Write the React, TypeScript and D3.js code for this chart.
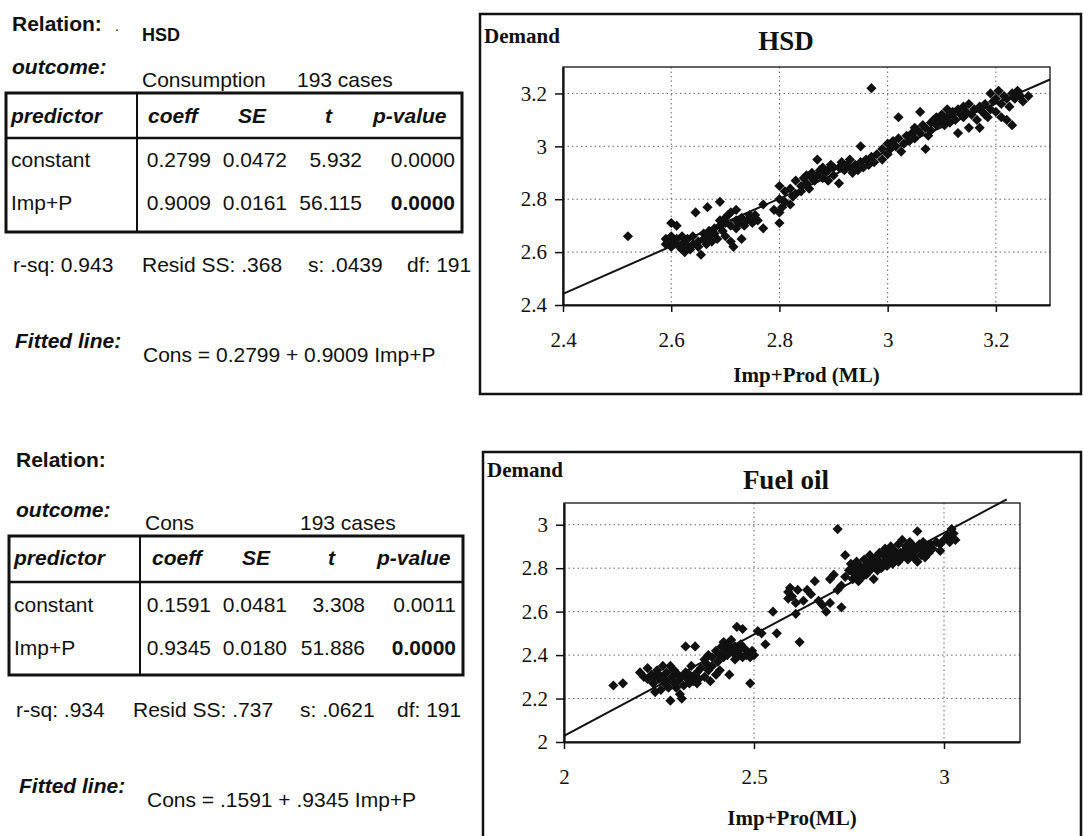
import React, { useEffect, useRef } from 'react';
import * as d3 from 'd3';

// ---- regression output (left side) ----
const TABLE_HEADERS = ['coeff', 'SE', 't', 'p-value'];
const PREDICTORS = ['constant', 'Imp+P'];

const HSD_ROWS = [
  ['0.2799', '0.0472', '5.932', '0.0000'],
  ['0.9009', '0.0161', '56.115', '0.0000'],
];
const FUEL_ROWS = [
  ['0.1591', '0.0481', '3.308', '0.0011'],
  ['0.9345', '0.0180', '51.886', '0.0000'],
];
const HSD_STATS = ['r-sq: 0.943', 'Resid SS: .368', 's: .0439', 'df: 191'];
const FUEL_STATS = ['r-sq: .934', 'Resid SS: .737', 's: .0621', 'df: 191'];

// ---- scatter data ----
const HSD_FIT = [0.2799, 0.9009];
const FUEL_FIT = [0.1591, 0.9345];
const HSD_TICKS = [2.4, 2.6, 2.8, 3, 3.2];
const FUEL_X_TICKS = [2, 2.5, 3];
const FUEL_Y_TICKS = [2, 2.2, 2.4, 2.6, 2.8, 3];

const HSD_POINTS = [
  [2.52, 2.66], [2.59, 2.63], [2.59, 2.65], [2.595, 2.64], [2.6, 2.62], [2.6, 2.64], [2.6, 2.66],
  [2.6, 2.71], [2.605, 2.63], [2.61, 2.7], [2.61, 2.65], [2.615, 2.62], [2.62, 2.63], [2.62, 2.66],
  [2.62, 2.61], [2.625, 2.6], [2.625, 2.64], [2.63, 2.62], [2.63, 2.65], [2.635, 2.61], [2.64, 2.63],
  [2.64, 2.66], [2.645, 2.75], [2.65, 2.62], [2.65, 2.64], [2.655, 2.59], [2.66, 2.65], [2.66, 2.67],
  [2.665, 2.63], [2.667, 2.77], [2.67, 2.66], [2.67, 2.68], [2.675, 2.64], [2.68, 2.69], [2.68, 2.67],
  [2.685, 2.65], [2.69, 2.79], [2.69, 2.7], [2.69, 2.72], [2.695, 2.68], [2.7, 2.71], [2.7, 2.73],
  [2.7, 2.66], [2.705, 2.74], [2.71, 2.7], [2.71, 2.75], [2.71, 2.64], [2.715, 2.62], [2.72, 2.72],
  [2.72, 2.69], [2.72, 2.76], [2.725, 2.71], [2.73, 2.65], [2.73, 2.73], [2.735, 2.7], [2.74, 2.72],
  [2.745, 2.74], [2.75, 2.73], [2.75, 2.71], [2.755, 2.74], [2.76, 2.72], [2.77, 2.69], [2.77, 2.78],
  [2.79, 2.76], [2.8, 2.71], [2.8, 2.75], [2.8, 2.8], [2.805, 2.77], [2.81, 2.79], [2.8, 2.85],
  [2.81, 2.83], [2.82, 2.84], [2.82, 2.78], [2.825, 2.81], [2.83, 2.82], [2.83, 2.87], [2.84, 2.85],
  [2.84, 2.83], [2.845, 2.88], [2.85, 2.86], [2.85, 2.89], [2.855, 2.84], [2.86, 2.88], [2.86, 2.9],
  [2.865, 2.87], [2.87, 2.95], [2.87, 2.89], [2.875, 2.91], [2.88, 2.88], [2.88, 2.92], [2.885, 2.9],
  [2.89, 2.91], [2.89, 2.87], [2.895, 2.93], [2.9, 2.92], [2.9, 2.89], [2.91, 2.86], [2.91, 2.92],
  [2.915, 2.94], [2.92, 2.91], [2.925, 2.93], [2.93, 2.92], [2.93, 2.95], [2.935, 2.9], [2.94, 2.93],
  [2.945, 2.91], [2.95, 3.0], [2.95, 2.94], [2.955, 2.92], [2.96, 2.95], [2.965, 2.93], [2.97, 3.22],
  [2.97, 2.96], [2.975, 2.94], [2.98, 2.97], [2.99, 2.99], [2.99, 2.95], [3.0, 3.01], [3.0, 2.97],
  [3.005, 2.99], [3.01, 3.02], [3.015, 3.0], [3.02, 3.11], [3.02, 3.03], [3.025, 2.98], [3.03, 3.01],
  [3.035, 3.04], [3.04, 3.02], [3.045, 3.05], [3.05, 3.07], [3.05, 3.03], [3.055, 3.06], [3.06, 3.13],
  [3.06, 3.05], [3.065, 3.08], [3.07, 2.99], [3.07, 3.07], [3.075, 3.04], [3.08, 3.09], [3.08, 3.06],
  [3.085, 3.1], [3.09, 3.08], [3.09, 3.11], [3.095, 3.09], [3.1, 3.12], [3.1, 3.1], [3.105, 3.08],
  [3.11, 3.14], [3.11, 3.11], [3.115, 3.09], [3.12, 3.12], [3.12, 3.13], [3.125, 3.1], [3.13, 3.05],
  [3.13, 3.14], [3.135, 3.12], [3.14, 3.15], [3.14, 3.11], [3.145, 3.13], [3.15, 3.07], [3.15, 3.16],
  [3.155, 3.12], [3.16, 3.14], [3.165, 3.1], [3.17, 3.07], [3.17, 3.15], [3.175, 3.13], [3.18, 3.16],
  [3.18, 3.12], [3.185, 3.11], [3.19, 3.2], [3.19, 3.14], [3.195, 3.17], [3.2, 3.18], [3.2, 3.13],
  [3.205, 3.21], [3.21, 3.11], [3.21, 3.16], [3.215, 3.19], [3.22, 3.18], [3.22, 3.1], [3.225, 3.15],
  [3.23, 3.08], [3.23, 3.2], [3.235, 3.18], [3.24, 3.21], [3.245, 3.19], [3.25, 3.17], [3.26, 3.19],
];

const FUEL_POINTS = [
  [2.13, 2.26], [2.155, 2.27], [2.2, 2.32], [2.21, 2.3], [2.22, 2.34], [2.22, 2.29], [2.23, 2.31],
  [2.235, 2.27], [2.24, 2.3], [2.24, 2.23], [2.245, 2.33], [2.25, 2.29], [2.25, 2.31], [2.255, 2.24],
  [2.26, 2.35], [2.26, 2.3], [2.265, 2.27], [2.27, 2.32], [2.27, 2.28], [2.275, 2.25], [2.28, 2.35],
  [2.28, 2.19], [2.285, 2.3], [2.29, 2.27], [2.29, 2.33], [2.295, 2.25], [2.3, 2.31], [2.3, 2.28],
  [2.305, 2.22], [2.31, 2.2], [2.31, 2.3], [2.315, 2.26], [2.32, 2.32], [2.32, 2.44], [2.325, 2.29],
  [2.33, 2.27], [2.33, 2.31], [2.335, 2.35], [2.34, 2.3], [2.34, 2.28], [2.345, 2.44], [2.35, 2.32],
  [2.35, 2.27], [2.355, 2.29], [2.36, 2.34], [2.37, 2.38], [2.37, 2.3], [2.375, 2.36], [2.38, 2.4],
  [2.38, 2.33], [2.385, 2.28], [2.39, 2.39], [2.39, 2.35], [2.4, 2.42], [2.4, 2.31], [2.405, 2.37],
  [2.41, 2.4], [2.41, 2.33], [2.415, 2.44], [2.42, 2.39], [2.42, 2.46], [2.425, 2.42], [2.43, 2.45],
  [2.43, 2.4], [2.435, 2.31], [2.44, 2.43], [2.44, 2.47], [2.445, 2.41], [2.45, 2.44], [2.45, 2.38],
  [2.455, 2.53], [2.46, 2.42], [2.46, 2.4], [2.465, 2.45], [2.47, 2.39], [2.47, 2.52], [2.475, 2.43],
  [2.48, 2.4], [2.485, 2.41], [2.49, 2.27], [2.49, 2.39], [2.495, 2.42], [2.5, 2.4],
  [2.51, 2.51], [2.52, 2.5], [2.53, 2.45], [2.55, 2.6], [2.56, 2.5], [2.59, 2.66], [2.59, 2.69],
  [2.595, 2.71], [2.6, 2.67], [2.61, 2.59], [2.61, 2.64], [2.615, 2.7], [2.62, 2.46], [2.63, 2.65],
  [2.64, 2.7], [2.65, 2.68], [2.66, 2.74], [2.67, 2.65], [2.68, 2.63], [2.69, 2.6], [2.7, 2.64],
  [2.7, 2.75], [2.71, 2.77], [2.72, 2.98], [2.72, 2.7], [2.73, 2.62], [2.73, 2.72], [2.74, 2.86],
  [2.74, 2.76], [2.75, 2.79], [2.755, 2.82], [2.76, 2.78], [2.76, 2.75], [2.765, 2.8], [2.77, 2.77],
  [2.77, 2.83], [2.775, 2.74], [2.78, 2.81], [2.78, 2.79], [2.785, 2.76], [2.79, 2.84], [2.79, 2.8],
  [2.795, 2.77], [2.8, 2.82], [2.8, 2.78], [2.805, 2.86], [2.81, 2.8], [2.81, 2.83], [2.815, 2.75],
  [2.82, 2.85], [2.82, 2.81], [2.825, 2.79], [2.83, 2.87], [2.83, 2.83], [2.835, 2.8], [2.84, 2.86],
  [2.84, 2.82], [2.845, 2.89], [2.85, 2.84], [2.85, 2.81], [2.855, 2.87], [2.86, 2.85], [2.86, 2.9],
  [2.865, 2.82], [2.87, 2.88], [2.87, 2.84], [2.875, 2.86], [2.88, 2.91], [2.88, 2.83], [2.885, 2.87],
  [2.89, 2.85], [2.89, 2.93], [2.895, 2.88], [2.9, 2.86], [2.9, 2.9], [2.905, 2.84], [2.91, 2.89],
  [2.91, 2.92], [2.915, 2.87], [2.92, 2.85], [2.92, 2.9], [2.925, 2.88], [2.93, 2.97], [2.93, 2.83],
  [2.935, 2.91], [2.94, 2.89], [2.94, 2.86], [2.945, 2.92], [2.95, 2.88], [2.95, 2.85], [2.955, 2.9],
  [2.96, 2.87], [2.965, 2.91], [2.97, 2.89], [2.98, 2.92], [2.99, 2.91], [2.99, 2.88], [3.0, 2.93],
  [3.01, 2.95], [3.015, 2.92], [3.02, 2.98], [3.02, 2.94], [3.025, 2.96], [3.03, 2.93],
];

const SANS = '"Liberation Sans", Arial, sans-serif';
const SERIF = '"Liberation Serif", "Times New Roman", serif';
const INK = '#111';

function txt(g, x, y, s, opts: any = {}) {
  return g.append('text')
    .attr('x', x)
    .attr('y', y)
    .attr('font-family', opts.family || SANS)
    .attr('font-size', opts.size || 21)
    .attr('font-weight', opts.bold ? 'bold' : 'normal')
    .attr('font-style', opts.italic ? 'italic' : 'normal')
    .attr('text-anchor', opts.anchor || 'start')
    .attr('fill', INK)
    .text(s);
}

function drawRegression(svg, o) {
  const g = svg.append('g');
  txt(g, o.left, o.relY, 'Relation:', { bold: true, size: 21 });
  if (o.relation) {
    txt(g, 115, o.relY, '.', { size: 14 });
    txt(g, 142, o.relY + 10, o.relation, { bold: true, size: 18 });
  }
  txt(g, o.left, o.outY, 'outcome:', { bold: true, italic: true, size: 21 });
  txt(g, o.outcomeX, o.outY + 13, o.outcome, { size: 21 });
  txt(g, o.casesX, o.outY + 13, '193 cases', { size: 21 });

  // table frame
  const [tx0, ty0, tx1, ty1] = o.table;
  g.append('rect')
    .attr('x', tx0).attr('y', ty0)
    .attr('width', tx1 - tx0).attr('height', ty1 - ty0)
    .attr('fill', 'none').attr('stroke', INK).attr('stroke-width', 3);
  g.append('line')
    .attr('x1', o.divider).attr('x2', o.divider).attr('y1', ty0).attr('y2', ty1)
    .attr('stroke', INK).attr('stroke-width', 2);
  g.append('line')
    .attr('x1', tx0).attr('x2', tx1).attr('y1', o.headLine).attr('y2', o.headLine)
    .attr('stroke', INK).attr('stroke-width', 2.5);

  txt(g, tx0 + 5, o.headY, 'predictor', { bold: true, italic: true });
  TABLE_HEADERS.forEach((h, i) => {
    txt(g, o.headX[i], o.headY, h, { bold: true, italic: true });
  });
  PREDICTORS.forEach((p, r) => {
    txt(g, tx0 + 5, o.rowY[r], p);
    o.rows[r].forEach((v, c) => {
      txt(g, o.colRight[c], o.rowY[r], v, {
        anchor: 'end',
        bold: r === 1 && c === 3,
      });
    });
  });

  o.stats.forEach((s, i) => txt(g, o.statX[i], o.statY, s));
  txt(g, o.left + 3, o.fitY, 'Fitted line:', { bold: true, italic: true });
  txt(g, o.fitX, o.fitY + 14, o.fitted);
}

function drawChart(svg, c) {
  const g = svg.append('g');
  g.append('rect')
    .attr('x', c.box[0]).attr('y', c.box[1])
    .attr('width', c.box[2]).attr('height', c.box[3])
    .attr('fill', '#fff').attr('stroke', INK).attr('stroke-width', 2.5);

  const x = d3.scaleLinear().domain(c.xDomain).range([c.plot[0], c.plot[2]]);
  const y = d3.scaleLinear().domain(c.yDomain).range([c.plot[3], c.plot[1]]);

  // dotted grid
  g.selectAll('line.hgrid')
    .data(c.yTicks.filter(d => d > c.yDomain[0]))
    .join('line')
    .attr('x1', c.plot[0]).attr('x2', c.plot[2])
    .attr('y1', d => y(d)).attr('y2', d => y(d))
    .attr('stroke', '#666').attr('stroke-width', 1).attr('stroke-dasharray', '1.5,3');
  g.selectAll('line.vgrid')
    .data(c.xTicks.filter(d => d > c.xDomain[0]))
    .join('line')
    .attr('y1', c.plot[1]).attr('y2', c.plot[3])
    .attr('x1', d => x(d)).attr('x2', d => x(d))
    .attr('stroke', '#666').attr('stroke-width', 1).attr('stroke-dasharray', '1.5,3');

  g.append('rect')
    .attr('x', c.plot[0]).attr('y', c.plot[1])
    .attr('width', c.plot[2] - c.plot[0]).attr('height', c.plot[3] - c.plot[1])
    .attr('fill', 'none').attr('stroke', INK).attr('stroke-width', 1.3);

  const yAxis = d3.axisLeft(y)
    .tickValues(c.yTicks)
    .tickFormat(d => String(d))
    .tickSize(8)
    .tickPadding(8)
    .tickSizeOuter(0);
  const ya = g.append('g').attr('transform', `translate(${c.plot[0]},0)`).call(yAxis);

  const xAxis = d3.axisBottom(x)
    .tickValues(c.xTicks)
    .tickFormat(d => String(d))
    .tickSize(7)
    .tickPadding(20)
    .tickSizeOuter(0);
  const xa = g.append('g').attr('transform', `translate(0,${c.plot[3]})`).call(xAxis);

  [ya, xa].forEach(a => {
    a.attr('font-family', SERIF).attr('font-size', 21);
    a.select('.domain').attr('stroke', INK).attr('stroke-width', 2.2);
    a.selectAll('.tick line').attr('stroke', INK).attr('stroke-width', 1.5);
    a.selectAll('.tick text')
      .attr('fill', INK)
      .style('font-family', SERIF)
      .style('font-size', '21px');
  });

  // fitted line
  const line = d3.line()
    .x(d => x(d))
    .y(d => y(c.fit[0] + c.fit[1] * d));
  g.append('path')
    .datum(c.lineX)
    .attr('d', line)
    .attr('fill', 'none')
    .attr('stroke', INK)
    .attr('stroke-width', 2);

  const diamond = d3.symbol().type(d3.symbolSquare).size(52);
  g.append('g')
    .selectAll('path')
    .data(c.points)
    .join('path')
    .attr('d', diamond)
    .attr('transform', d => `translate(${x(d[0])},${y(d[1])}) rotate(45)`)
    .attr('fill', INK);

  txt(g, c.box[0] + 4, c.demandY, 'Demand', { family: SERIF, bold: true, size: 21 });
  txt(g, c.titleX, c.titleY, c.title, { family: SERIF, bold: true, size: 27, anchor: 'middle' });
  txt(g, (c.plot[0] + c.plot[2]) / 2, c.xTitleY, c.xTitle, {
    family: SERIF, bold: true, size: 21, anchor: 'middle',
  });
}

function App() {
  const svgRef = useRef(null);

  useEffect(() => {
    const svg = d3.select(svgRef.current);
    svg.selectAll('*').remove();
    svg.append('rect').attr('width', 1083).attr('height', 836).attr('fill', '#fff');

    drawRegression(svg, {
      left: 12, relY: 31, relation: 'HSD', outY: 74,
      outcome: 'Consumption', outcomeX: 142, casesX: 297,
      table: [6, 93, 462, 232], divider: 137, headLine: 138,
      headY: 123, headX: [148, 238, 325, 373], rowY: [167, 210],
      colRight: [211, 287, 362, 455], rows: HSD_ROWS,
      stats: HSD_STATS, statX: [13, 142, 308, 407], statY: 272,
      fitY: 348, fitX: 143, fitted: 'Cons = 0.2799 + 0.9009 Imp+P',
    });
    drawRegression(svg, {
      left: 16, relY: 467, relation: null, outY: 517,
      outcome: 'Cons', outcomeX: 145, casesX: 300,
      table: [9, 536, 463, 675], divider: 140, headLine: 582,
      headY: 565, headX: [152, 242, 328, 377], rowY: [612, 655],
      colRight: [211, 287, 365, 456], rows: FUEL_ROWS,
      stats: FUEL_STATS, statX: [16, 133, 300, 397], statY: 717,
      fitY: 793, fitX: 147, fitted: 'Cons = .1591 + .9345 Imp+P',
    });

    drawChart(svg, {
      box: [480, 14, 601, 380], plot: [563, 67, 1050, 305],
      xDomain: [2.4, 3.3], yDomain: [2.4, 3.3],
      xTicks: HSD_TICKS, yTicks: HSD_TICKS,
      fit: HSD_FIT, lineX: [2.4, 3.3], points: HSD_POINTS,
      title: 'HSD', titleX: 786, titleY: 50, demandY: 43,
      xTitle: 'Imp+Prod (ML)', xTitleY: 382,
    });
    drawChart(svg, {
      box: [483, 452, 598, 400], plot: [564, 503, 1020, 742],
      xDomain: [2, 3.2], yDomain: [2, 3.1],
      xTicks: FUEL_X_TICKS, yTicks: FUEL_Y_TICKS,
      fit: FUEL_FIT, lineX: [2, 3.165], points: FUEL_POINTS,
      title: 'Fuel oil', titleX: 786, titleY: 489, demandY: 477,
      xTitle: 'Imp+Pro(ML)', xTitleY: 825,
    });
  }, []);

  return (
    <svg
      ref={svgRef}
      width={1083}
      height={836}
      style={{ position: 'absolute', left: 0, top: 0 }}
    />
  );
}

export default App;
